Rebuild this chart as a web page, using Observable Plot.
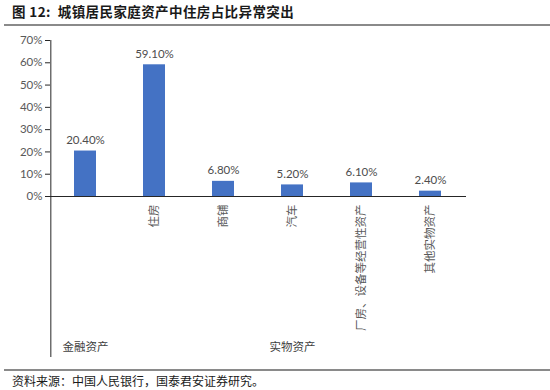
<!DOCTYPE html>
<html>
<head>
<meta charset="utf-8">
<script src="https://cdn.jsdelivr.net/npm/d3@7"></script>
<script src="https://cdn.jsdelivr.net/npm/@observablehq/plot@0.6"></script>
<style>
  html, body { margin: 0; padding: 0; background: #fff; }
  #wrap { position: relative; width: 550px; height: 390px; overflow: hidden; }
  #title { position: absolute; left: 12px; top: 1px; font-family: "Noto Sans CJK SC", sans-serif; font-weight: 700; font-size: 13.5px; color: #1a1a1a; letter-spacing: 0.4px; line-height: 20px; }
  .hr { position: absolute; left: 4px; right: 0; height: 0; border-top: 2px solid #8a8a8a; }
  #chart { position: absolute; left: 0; top: 27px; }
  #caption { position: absolute; left: 12px; top: 373px; font-family: "Noto Sans CJK SC", sans-serif; font-size: 12px; color: #1a1a1a; line-height: 16px; }
</style>
</head>
<body>
<div id="wrap">
  <div id="title">图 12:&nbsp; 城镇居民家庭资产中住房占比异常突出</div>
  <div class="hr" style="top:24px"></div>
  <div id="chart"></div>
  <div class="hr" style="top:369px"></div>
  <div id="caption">资料来源：中国人民银行，国泰君安证券研究。</div>
</div>
<script>
const categories = ["金融资产", "住房", "商铺", "汽车", "厂房、设备等经营性资产", "其他实物资产"];
const groups = ["金融资产", "实物资产", "实物资产", "实物资产", "实物资产", "实物资产"];
const values = [20.4, 59.1, 6.8, 5.2, 6.1, 2.4];
const yTicks = [0, 10, 20, 30, 40, 50, 60, 70];

const data = categories.map((c, i) => ({category: c, group: groups[i], value: values[i]}));

// group label positions & boundaries derived from the arrays
const groupNames = [...new Set(groups)];
const groupInfo = groupNames.map(g => {
  const members = categories.filter((c, i) => groups[i] === g);
  return {group: g, first: members[0], center: members[Math.floor(members.length / 2)]};
});
const subLabels = data.filter(d => d.group !== d.category);

const W = 550, H = 343, ML = 50, MR = 84, MT = 13, MB = 13;
const step = (W - ML - MR) / categories.length;
const zeroY = 169;

const chart = Plot.plot({
  width: W,
  height: H,
  marginLeft: ML,
  marginRight: MR,
  marginTop: MT,
  marginBottom: MB,
  style: {fontFamily: "Lato, 'Noto Sans CJK SC', sans-serif", fontSize: "11px", color: "#595959", background: "#fff"},
  x: {domain: categories, paddingInner: 0.68, paddingOuter: 0.34, axis: null},
  y: {domain: [0, 70], range: [zeroY, MT]},
  marks: [
    Plot.barY(data, {x: "category", y: "value", fill: "#4472C4"}),
    Plot.ruleY([0], {stroke: "#262626"}),
    // vertical axis line, continuing down to bottom of category area
    Plot.ruleX([categories[0]], {x: d => d, dx: -step / 2, stroke: "#262626"}),
    // group separators
    Plot.ruleX(groupInfo.slice(1), {x: "first", dx: -step / 2, y1: () => 0, stroke: "#262626"}),
    Plot.ruleX([categories[categories.length - 1]], {x: d => d, dx: step / 2, y1: () => 0, stroke: "#262626"}),
    Plot.axisY(yTicks, {tickFormat: d => d + "%", tickSize: 5, tickPadding: 3, label: null, stroke: "#262626", fill: "#595959", fontSize: 11.5}),
    Plot.text(data, {x: "category", y: "value", text: d => d.value.toFixed(2) + "%", dy: -7, lineAnchor: "bottom", fill: "#4d4d4d", fontSize: 11.5}),
    Plot.text(subLabels, {x: "category", y: () => 0, text: "category", rotate: -90, textAnchor: "end", lineAnchor: "middle", dy: 8, fill: "#595959", fontSize: 11.5}),
    Plot.text(groupInfo, {x: "center", text: "group", frameAnchor: "bottom", dy: -7, fill: "#404040", fontSize: 11.5})
  ]
});
document.getElementById("chart").appendChild(chart);
</script>
</body>
</html>
